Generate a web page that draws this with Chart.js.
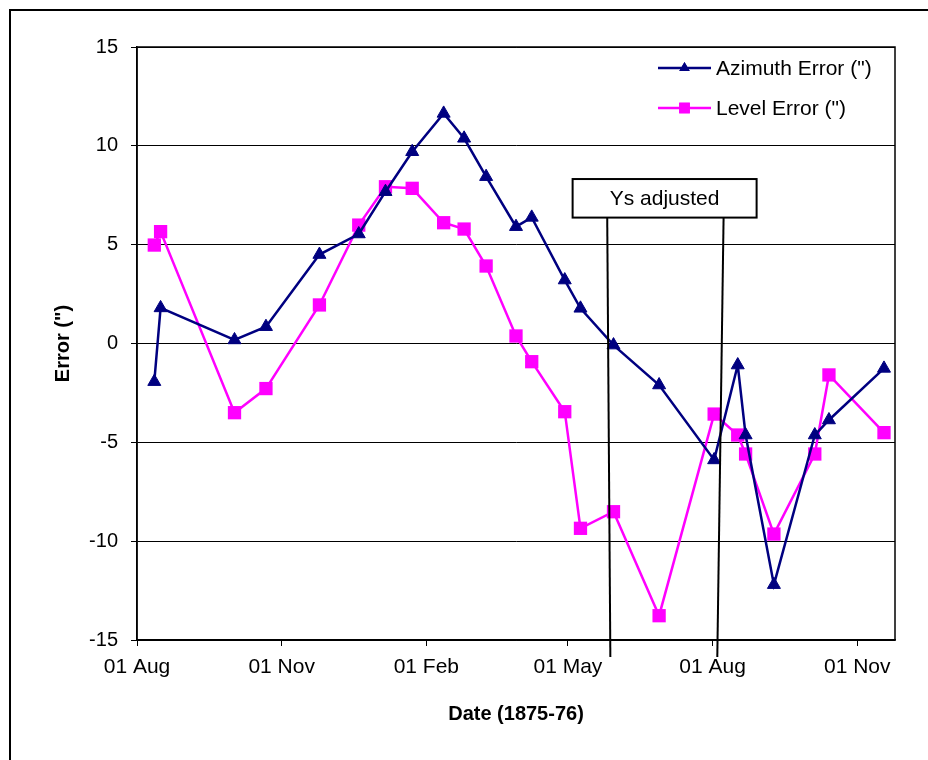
<!DOCTYPE html>
<html><head><meta charset="utf-8">
<script src="https://cdn.jsdelivr.net/npm/chart.js@4/dist/chart.umd.min.js"></script>
<style>html,body{margin:0;padding:0;background:#fff;overflow:hidden}#wrap{width:928px;height:760px;position:relative}canvas{display:block}</style>
</head><body><div id="wrap"><canvas id="c" width="928" height="760"></canvas></div>
<script>
// ---- data ----
const obsDates = ['1875-08-12','1875-08-16','1875-10-02','1875-10-22','1875-11-25','1875-12-20',
  '1876-01-06','1876-01-23','1876-02-12','1876-02-25','1876-03-10','1876-03-29','1876-04-08',
  '1876-04-29','1876-05-09','1876-05-30','1876-06-28','1876-08-02','1876-08-17','1876-08-22',
  '1876-09-09','1876-10-05','1876-10-14','1876-11-18'];
const azimuthError = [-1.93, 1.80, 0.18, 0.85, 4.50, 5.54, 7.68, 9.70, 11.64, 10.38, 8.44, 5.91, 6.38,
  3.21, 1.78, -0.08, -2.10, -5.89, -1.09, -4.63, -12.20, -4.63, -3.87, -1.26];
const levelError = [4.98, 5.66, -3.50, -2.28, 1.95, 5.99, 7.93, 7.85, 6.11, 5.79, 3.92, 0.38, -0.92,
  -3.45, -9.35, -8.51, -13.77, -3.57, -4.63, -5.59, -9.64, -5.59, -1.59, -4.51];
const seriesNames = ['Azimuth Error (")', 'Level Error (")'];
const tickDates = ['1875-08-01','1875-11-01','1876-02-01','1876-05-01','1876-08-01','1876-11-01'];
const tickLabels = ['01 Aug','01 Nov','01 Feb','01 May','01 Aug','01 Nov'];
const axisStart = '1875-08-01';
const axisEnd = '1876-11-25';
const yMin = -15, yMax = 15, yStep = 5;
const xTitle = 'Date (1875-76)';
const yTitle = 'Error (")';
const noteText = 'Ys adjusted';
const noteBoxDates = ['1876-05-04', '1876-08-29'];
const noteBoxValues = [6.37, 8.32];
const noteLine1 = [['1876-05-26', 6.37], ['1876-05-28', -15.86]];
const noteLine2 = [['1876-08-08', 6.37], ['1876-08-04', -15.86]];

// ---- helpers ----
const base = Date.UTC(1875, 7, 1);
function dayOf(s) { const p = s.split('-').map(Number); return (Date.UTC(p[0], p[1]-1, p[2]) - base) / 86400000; }
const FONT = "'Liberation Sans', Arial, Helvetica, sans-serif";
const NAVY = '#000080', MAG = '#FF00FF';

const tickDays = tickDates.map(dayOf);

const frame = {
  id: 'frame',
  beforeDraw(chart) {
    const ctx = chart.ctx;
    ctx.save();
    ctx.fillStyle = '#fff';
    ctx.fillRect(0, 0, chart.width, chart.height);
    ctx.strokeStyle = '#000';
    ctx.lineWidth = 2;
    ctx.strokeRect(10, 10, chart.width + 20, chart.height + 20);
    ctx.restore();
  },
  afterDraw(chart) {
    const {ctx, chartArea: a} = chart;
    ctx.save();
    ctx.strokeStyle = '#000';
    ctx.lineWidth = 1.5;
    ctx.strokeRect(a.left, a.top, a.right - a.left, a.bottom - a.top);
    ctx.restore();
  }
};

const note = {
  id: 'note',
  afterDatasetsDraw(chart) {
    const {ctx, scales: {x, y}} = chart;
    ctx.save();
    ctx.strokeStyle = '#000';
    ctx.lineWidth = 2;
    [noteLine1, noteLine2].forEach(l => {
      ctx.beginPath();
      ctx.moveTo(x.getPixelForValue(dayOf(l[0][0])), y.getPixelForValue(l[0][1]));
      ctx.lineTo(x.getPixelForValue(dayOf(l[1][0])), y.getPixelForValue(l[1][1]));
      ctx.stroke();
    });
    const bx0 = x.getPixelForValue(dayOf(noteBoxDates[0]));
    const bx1 = x.getPixelForValue(dayOf(noteBoxDates[1]));
    const by0 = y.getPixelForValue(noteBoxValues[1]);
    const by1 = y.getPixelForValue(noteBoxValues[0]);
    ctx.fillStyle = '#fff';
    ctx.fillRect(bx0, by0, bx1 - bx0, by1 - by0);
    ctx.strokeRect(bx0, by0, bx1 - bx0, by1 - by0);
    ctx.fillStyle = '#000';
    ctx.font = '21px ' + FONT;
    ctx.textAlign = 'center';
    ctx.textBaseline = 'middle';
    ctx.fillText(noteText, (bx0 + bx1) / 2, (by0 + by1) / 2 + 1);
    ctx.restore();
  }
};

const legendBox = {
  id: 'legendBox',
  afterDraw(chart) {
    const {ctx, chartArea: a} = chart;
    ctx.save();
    chart.data.datasets.forEach((ds, i) => {
      const yy = a.top + 21 + i * 40;
      const x0 = a.right - 237, x1 = a.right - 184;
      ctx.strokeStyle = ds.borderColor;
      ctx.lineWidth = 2.5;
      ctx.beginPath(); ctx.moveTo(x0, yy); ctx.lineTo(x1, yy); ctx.stroke();
      ctx.fillStyle = ds.borderColor;
      Chart.helpers.drawPoint(ctx, {pointStyle: ds.pointStyle, radius: ds.pointRadius * 0.8, rotation: 0, borderWidth: 0}, (x0 + x1) / 2, yy);
      ctx.fill();
      ctx.fillStyle = '#000';
      ctx.font = '21px ' + FONT;
      ctx.textAlign = 'left';
      ctx.textBaseline = 'middle';
      ctx.fillText(ds.label, x1 + 5, yy + 1);
    });
    ctx.restore();
  }
};

Chart.defaults.font.family = FONT;
Chart.defaults.color = '#000';

new Chart(document.getElementById('c'), {
  type: 'line',
  data: {
    datasets: [
      {
        label: seriesNames[0],
        data: obsDates.map((d, i) => ({x: dayOf(d), y: azimuthError[i]})),
        borderColor: NAVY, backgroundColor: NAVY,
        borderWidth: 2.5, pointStyle: 'triangle', pointRadius: 7.5,
        pointBackgroundColor: NAVY, pointBorderColor: NAVY, pointBorderWidth: 1,
        tension: 0
      },
      {
        label: seriesNames[1],
        data: obsDates.map((d, i) => ({x: dayOf(d), y: levelError[i]})),
        borderColor: MAG, backgroundColor: MAG,
        borderWidth: 2.5, pointStyle: 'rect', pointRadius: 9.4,
        pointBackgroundColor: MAG, pointBorderColor: MAG, pointBorderWidth: 0,
        tension: 0
      }
    ]
  },
  options: {
    responsive: false,
    animation: false,
    devicePixelRatio: 1,
    layout: {padding: {top: 47, right: 33, left: 0, bottom: 0}},
    plugins: {legend: {display: false}, tooltip: {enabled: false}},
    elements: {line: {borderJoinStyle: 'miter'}},
    scales: {
      x: {
        type: 'linear',
        min: dayOf(axisStart), max: dayOf(axisEnd),
        afterBuildTicks: s => { s.ticks = tickDays.map(v => ({value: v})); },
        afterFit: s => { s.height = 120; },
        ticks: {
          autoSkip: false, maxRotation: 0, padding: 9,
          font: {size: 21},
          callback: v => { const k = tickDays.indexOf(v); return k >= 0 ? tickLabels[k] : ''; }
        },
        grid: {drawOnChartArea: false, drawTicks: true, tickLength: 6, color: '#000', lineWidth: 1},
        border: {display: true, color: '#000', width: 1.5},
        title: {display: true, text: xTitle, font: {size: 20, weight: 'bold'}, padding: {top: 0, bottom: 34}}
      },
      y: {
        min: yMin, max: yMax,
        ticks: {stepSize: yStep, padding: 13, font: {size: 20}},
        afterFit: s => { s.width = 137; },
        grid: {color: '#000', lineWidth: 1, tickLength: 6},
        border: {display: true, color: '#000', width: 1.5},
        title: {display: true, text: yTitle, font: {size: 20, weight: 'bold'}, padding: {top: 51, bottom: 0}}
      }
    }
  },
  plugins: [frame, note, legendBox]
});
</script>
</body></html>
